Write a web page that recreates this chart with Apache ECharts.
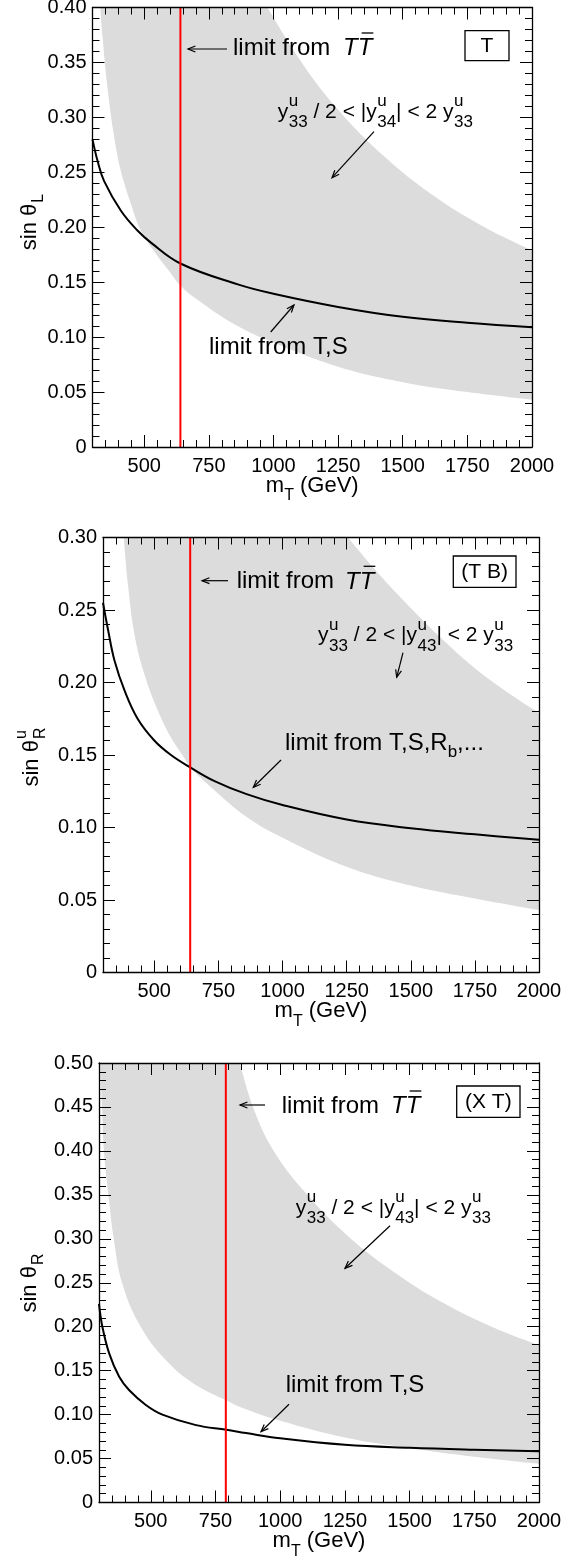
<!DOCTYPE html>
<html><head><meta charset="utf-8">
<script src="https://cdn.jsdelivr.net/npm/echarts@6/dist/echarts.min.js"></script>
<style>html,body{margin:0;padding:0;background:#fff}#c{width:578px;height:1558px}</style>
</head><body><div id="c"></div>
<script>
// ---------------- data ----------------
const massTicks = [500, 750, 1000, 1250, 1500, 1750, 2000];
const massMin = 300, massMax = 2000;
const yMaxT = 0.40, yMaxTB = 0.30, yMaxXT = 0.50;
const limitTT_T = 640, limitTT_TB = 640, limitTT_XT = 790;

// panel (T)
const blackT = [[300,0.280],[320,0.260],[345,0.242],[410,0.215],[474,0.197],[526,0.186],[640,0.167],[862,0.148],[1000,0.1395],[1250,0.1275],[1500,0.1185],[1750,0.113],[2000,0.109]];
const lowerT = [[330,0.400],[339,0.373],[358,0.327],[384,0.282],[410,0.251],[449,0.221],[487,0.197],[539,0.178],[597,0.160],[640,0.147],[694,0.136],[854,0.111],[1000,0.095],[1250,0.073],[1500,0.059],[1750,0.050],[2000,0.043]];
const upperT = [[977,0.400],[1109,0.350],[1250,0.307],[1431,0.264],[1624,0.228],[1817,0.200],[2000,0.179]];

// panel (T B)
const blackTB = [[300,0.255],[320,0.236],[345,0.215],[385,0.194],[435,0.175],[500,0.160],[565,0.150],[640,0.1415],[735,0.132],[860,0.123],[1000,0.1155],[1250,0.1055],[1500,0.0995],[1750,0.0953],[2000,0.0915]];
const lowerTB = [[381,0.300],[397,0.268],[423,0.233],[461,0.206],[513,0.181],[565,0.162],[617,0.148],[640,0.1415],[720,0.128],[862,0.107],[1000,0.093],[1250,0.073],[1500,0.060],[1750,0.051],[2000,0.043]];
const upperTB = [[1256,0.300],[1350,0.280],[1464,0.258],[1646,0.226],[1800,0.203],[2000,0.179]];

// panel (X T)
const blackXT = [[300,0.226],[313,0.200],[339,0.170],[378,0.143],[416,0.128],[481,0.111],[545,0.100],[675,0.088],[793,0.0827],[868,0.079],[1000,0.073],[1250,0.0656],[1500,0.0622],[1750,0.060],[2000,0.0584]];
const lowerXT = [[305,0.500],[312,0.450],[319,0.400],[336,0.351],[358,0.298],[390,0.249],[461,0.200],[558,0.162],[662,0.136],[793,0.116],[868,0.106],[1000,0.093],[1250,0.074],[1500,0.062],[1750,0.052],[2000,0.044]];
const upperXT = [[845,0.500],[895,0.450],[975,0.400],[1105,0.350],[1255,0.305],[1431,0.264],[1624,0.228],[1817,0.200],[2000,0.179]];

// ---------------- layout / style ----------------
const FF = '"Liberation Sans", Arial, Helvetica, sans-serif';
const GREY = '#dcdcdc';
const panels = [
  {left:92.5, top:7.5, width:439.5, height:439.5, ymax:yMaxT, black:blackT, lower:lowerT, upper:upperT, limit:limitTT_T},
  {left:103, top:537.5, width:436, height:435, ymax:yMaxTB, black:blackTB, lower:lowerTB, upper:upperTB, limit:limitTT_TB},
  {left:99, top:1063, width:440, height:439.5, ymax:yMaxXT, black:blackXT, lower:lowerXT, upper:upperXT, limit:limitTT_XT}
];
const minorMass = [];
for (let m = 350; m < 2000; m += 50) if (m % 250 !== 0) minorMass.push(m);

const grid = [], xAxis = [], yAxis = [], series = [];
const lineBlack = {color:'#000', width:1.3};
const SM = {smooth:0.4};
panels.forEach((p, i) => {
  grid.push({left:p.left, top:p.top, width:p.width, height:p.height, outerBoundsMode:'none', containLabel:false});
  const xBase = {type:'value', gridIndex:i, min:massMin, max:massMax, splitLine:{show:false}, z:10};
  xAxis.push(Object.assign({}, xBase, {position:'bottom',
    axisLine:{show:true, lineStyle:lineBlack},
    axisTick:{show:true, inside:true, length:12, customValues:massTicks, lineStyle:{color:'#000', width:1}},
    axisLabel:{show:true, customValues:massTicks, color:'#000', fontSize:20, fontFamily:FF, margin:9, formatter: v => String(v)}}));
  xAxis.push(Object.assign({}, xBase, {position:'bottom',
    axisLine:{show:false},
    axisTick:{show:true, inside:true, length:7, customValues:minorMass, lineStyle:{color:'#000', width:1}},
    axisLabel:{show:false}}));
  xAxis.push(Object.assign({}, xBase, {position:'top',
    axisLine:{show:true, lineStyle:lineBlack},
    axisTick:{show:true, inside:true, length:12, customValues:massTicks, lineStyle:{color:'#000', width:1}},
    axisLabel:{show:false}}));
  xAxis.push(Object.assign({}, xBase, {position:'top',
    axisLine:{show:false},
    axisTick:{show:true, inside:true, length:7, customValues:minorMass, lineStyle:{color:'#000', width:1}},
    axisLabel:{show:false}}));
  const yBase = {type:'value', gridIndex:i, min:0, max:p.ymax, interval:0.05, splitLine:{show:false}, minorSplitLine:{show:false}, z:10,
    axisLine:{show:true, lineStyle:lineBlack},
    axisTick:{show:true, inside:true, length:12, lineStyle:{color:'#000', width:1}},
    minorTick:{show:true, splitNumber:5, length:7, lineStyle:{color:'#000', width:1}}};
  yAxis.push(Object.assign({}, yBase, {position:'left',
    axisLabel:{show:true, color:'#000', fontSize:20, fontFamily:FF, margin:6,
      formatter: v => (Math.abs(v) < 1e-9 ? '0' : v.toFixed(2))}}));
  yAxis.push(Object.assign({}, yBase, {position:'right', axisLabel:{show:false}}));

  const xi = 4*i, yi = 2*i;
  series.push(Object.assign({type:'line', xAxisIndex:xi, yAxisIndex:yi, data:p.lower, symbol:'none', silent:true,
    lineStyle:{opacity:0}, areaStyle:{color:GREY, opacity:1, origin:'end'}, z:2}, SM));
  series.push(Object.assign({type:'line', xAxisIndex:xi, yAxisIndex:yi, data:p.upper, symbol:'none', silent:true,
    lineStyle:{opacity:0}, areaStyle:{color:'#fff', opacity:1, origin:'end'}, z:2}, SM));
  series.push(Object.assign({type:'line', xAxisIndex:xi, yAxisIndex:yi, data:p.black, symbol:'none', silent:true,
    lineStyle:{color:'#000', width:2}, z:3}, SM));
  series.push({type:'line', xAxisIndex:xi, yAxisIndex:yi, data:[[p.limit,0],[p.limit,p.ymax]], symbol:'none', silent:true,
    lineStyle:{color:'#ff0000', width:2}, z:4});
});

// ---------------- text helpers ----------------
const mctx = document.createElement('canvas').getContext('2d');
function fontStr(s, it){ return (it ? 'italic ' : '') + s + 'px ' + FF; }
function tw(t, s, it){ mctx.font = fontStr(s, it); return mctx.measureText(t).width; }
function txt(t, x, base, s, it){
  return {type:'text', x:x, y:base - 0.31*s, z:100, silent:true,
    style:{text:t, font:fontStr(s,it), fill:'#000', align:'left', textAlign:'left', verticalAlign:'middle', textVerticalAlign:'middle'}};
}
function seg(x1,y1,x2,y2,w){ return {type:'line', z:100, silent:true, shape:{x1:x1,y1:y1,x2:x2,y2:y2}, style:{stroke:'#000', lineWidth:w||1.2}}; }
function layout(parts, x0, base){
  let x = x0; const els = [];
  parts.forEach(p => {
    if (p.ax !== undefined) x = p.ax;
    x += p.dx || 0;
    if (p.stack) {
      els.push(txt(p.stack[0], x, base + p.up, p.s));
      els.push(txt(p.stack[1], x, base + p.dn, p.s));
      x += Math.max(tw(p.stack[0], p.s), tw(p.stack[1], p.s));
    } else {
      els.push(txt(p.t, x, base + (p.dy || 0), p.s, p.it));
      const w = tw(p.t, p.s, p.it);
      if (p.bar) els.push(seg(x + 4, base - 23, x + w + 1, base - 23, 1.3));
      x += w;
    }
  });
  return {els:els, width:x - x0};
}
function centered(parts, cx, base){
  const w = layout(parts, 0, base).width;
  return layout(parts, cx - w/2, base).els;
}
function arrow(x1,y1,x2,y2){
  const a = Math.atan2(y2-y1, x2-x1), h = 8, w = 0.38;
  return [seg(x1,y1,x2,y2),
    {type:'polyline', z:100, silent:true, shape:{points:[[x2 - h*Math.cos(a-w), y2 - h*Math.sin(a-w)],[x2,y2],[x2 - h*Math.cos(a+w), y2 - h*Math.sin(a+w)]]},
     style:{stroke:'#000', fill:null, lineWidth:1.2}}];
}
function box(x,y,w,h,label){
  return [{type:'rect', z:99, silent:true, shape:{x:x,y:y,width:w,height:h}, style:{stroke:'#000', fill:'#fff', lineWidth:1.3}},
    {type:'text', x:x + w/2, y:y + h/2 + 0.5, z:100, silent:true,
     style:{text:label, font:fontStr(21), fill:'#000', align:'center', textAlign:'center', verticalAlign:'middle', textVerticalAlign:'middle'}}];
}
function yTitle(parts, cx, cy, s){
  const w = layout(parts, 0, 0).width;
  return {type:'group', x:cx, y:cy, rotation:Math.PI/2, z:100, children: layout(parts, -w/2, 0.31*s).els};
}

const G = [];
function add(a){ (Array.isArray(a) ? a : [a]).forEach(e => G.push(e)); }

function bandLabel(x0, base, idx){
  return layout([
    {t:'y', s:21}, {stack:['u','33'], s:17, up:-11.5, dn:9.5, dx:0.5},
    {t:' / 2 < |y', s:21}, {stack:['u', idx], s:17, up:-11.5, dn:9.5, dx:0.5},
    {t:'| < 2 y', s:21}, {stack:['u','33'], s:17, up:-11.5, dn:9.5, dx:0.5}
  ], x0, base).els;
}
function ttLabel(x0, base, xT){
  return layout([{t:'limit from', s:24}, {t:'T', s:24, it:true, ax:xT}, {t:'T', s:24, it:true, bar:true}], x0, base).els;
}

// panel 1 (T)
add(arrow(227,49,188,49)); add(ttLabel(233,56,343));
add(box(465,30.7,44,30,'T'));
add(bandLabel(277.7,118.3,'34')); add(arrow(374,131.7,332,177.7));
add(layout([{t:'limit from T,S', s:24}],209,355).els); add(arrow(270.7,332,294,305));

// panel 2 (T B)
add(arrow(228,580.7,202,580.7)); add(ttLabel(236.7,589.3,345));
add(box(453.3,556,62.7,31.3,'(T B)'));
add(bandLabel(318,641.7,'43')); add(arrow(403,652.7,396.7,677.3));
add(layout([{t:'limit from T,S,R', s:24},{t:'b', s:17, dy:7},{t:',...', s:24}],285,750.7).els); add(arrow(281,760,253.3,787.3));

// panel 3 (X T)
add(arrow(265,1105,240,1105)); add(ttLabel(281.7,1114,391));
add(box(456.7,1086,63.3,31.3,'(X T)'));
add(bandLabel(295.7,1214.3,'43')); add(arrow(390,1225.7,345,1268.3));
add(layout([{t:'limit from T,S', s:24}],285.7,1393.3).els); add(arrow(289,1404.3,261,1431.7));

// axis titles
panels.forEach(p => {
  add(centered([{t:'m', s:22},{t:'T', s:16, dy:8.4},{t:' (GeV)', s:22}], p.left + p.width/2, p.top + p.height + 45.6));
});
add(yTitle([{t:'sin θ', s:22},{t:'L', s:16, dy:7, dx:1}], 30, 222, 22));
add(yTitle([{t:'sin θ', s:22},{stack:['u','R'], s:16, up:-12, dn:7, dx:1}], 32, 757, 22));
add(yTitle([{t:'sin θ', s:22},{t:'R', s:16, dy:7, dx:1}], 30, 1283, 22));

const chart = echarts.init(document.getElementById('c'), null, {renderer:'canvas'});
chart.setOption({animation:false, backgroundColor:'#fff', grid:grid, xAxis:xAxis, yAxis:yAxis, series:series, graphic:{elements:G}});
</script>
</body></html>
